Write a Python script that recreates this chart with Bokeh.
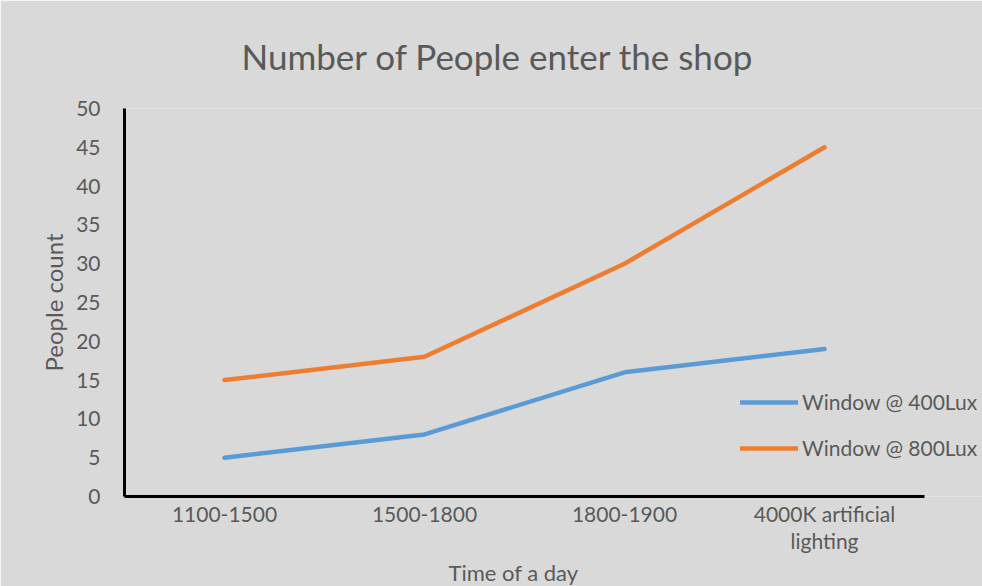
from bokeh.plotting import figure
from bokeh.models import Range1d, SingleIntervalTicker, FixedTicker, Legend, LegendItem, Title
from bokeh.embed import file_html
from bokeh.resources import INLINE

categories = ["1100-1500", "1500-1800", "1800-1900", "4000K artificial\nlighting"]
window_400 = [5, 8, 16, 19]
window_800 = [15, 18, 30, 45]
series_names = ["Window @ 400Lux", "Window @ 800Lux"]
title_text = "Number of People enter the shop"
x_label = "Time of a day"
y_label = "People count"

BG = "#d9d9d9"
TXT = "#595959"
FONT = "Lato"

x_pos = list(range(len(categories)))

p = figure(width=982, height=586,
           x_range=Range1d(-0.5, len(categories) - 0.5 + 0.29),
           y_range=Range1d(0, 50),
           output_backend="svg", toolbar_location=None,
           min_border_left=124, min_border_right=0,
           min_border_top=108, min_border_bottom=90,
           background_fill_color=BG, border_fill_color=BG,
           outline_line_color=None)

p.title.text = title_text
p.title.align = "left"
p.title.offset = 117
p.title.text_font = FONT
p.title.text_font_size = "35px"
p.title.text_font_style = "normal"
p.title.text_color = TXT
p.title.standoff = 64

p.xgrid.grid_line_color = None
p.ygrid.grid_line_color = None

for ax in (p.xaxis[0], p.yaxis[0]):
    ax.axis_line_color = "black"
    ax.axis_line_width = 3
    ax.major_tick_line_color = None
    ax.minor_tick_line_color = None
    ax.major_tick_out = 0
    ax.major_tick_in = 0
    ax.minor_tick_out = 0
    ax.minor_tick_in = 0
    ax.major_label_text_font = FONT
    ax.major_label_text_font_size = "21px"
    ax.major_label_text_color = TXT
    ax.axis_label_text_font = FONT
    ax.axis_label_text_font_size = "24px"
    ax.axis_label_text_font_style = "normal"
    ax.axis_label_text_color = TXT

p.yaxis[0].ticker = SingleIntervalTicker(interval=5)
p.yaxis[0].major_label_standoff = 24
p.yaxis[0].axis_label = y_label
p.yaxis[0].axis_label_standoff = 5

p.xaxis[0].ticker = FixedTicker(ticks=x_pos)
p.xaxis[0].major_label_overrides = {i: c for i, c in zip(x_pos, categories)}
p.xaxis[0].bounds = (-0.5, len(categories) - 0.5)
p.xaxis[0].major_label_standoff = 4
p.xaxis[0].major_label_text_line_height = 1.1

# x-axis title, centred under the four categories (frame extends right for the legend)
xt = Title(text=x_label, align="left", offset=324, standoff=0,
           text_font=FONT, text_font_size="22px", text_font_style="normal",
           text_color=TXT)
p.add_layout(xt, "below")

r1 = p.line(x_pos, window_400, line_color="#5b9bd5", line_width=4.5,
            line_cap="round", line_join="round")
r2 = p.line(x_pos, window_800, line_color="#ed7d31", line_width=4.5,
            line_cap="round", line_join="round")

legend = Legend(items=[LegendItem(label=series_names[0], renderers=[r1]),
                       LegendItem(label=series_names[1], renderers=[r2])],
                location=(616, 36), orientation="vertical",
                background_fill_alpha=0, border_line_alpha=0,
                padding=0, margin=0, spacing=21,
                glyph_width=58, glyph_height=20, label_height=20,
                label_standoff=4,
                label_text_font=FONT, label_text_font_size="21px",
                label_text_color=TXT)
p.add_layout(legend)

open("out.html", "w").write(file_html(p, INLINE))
